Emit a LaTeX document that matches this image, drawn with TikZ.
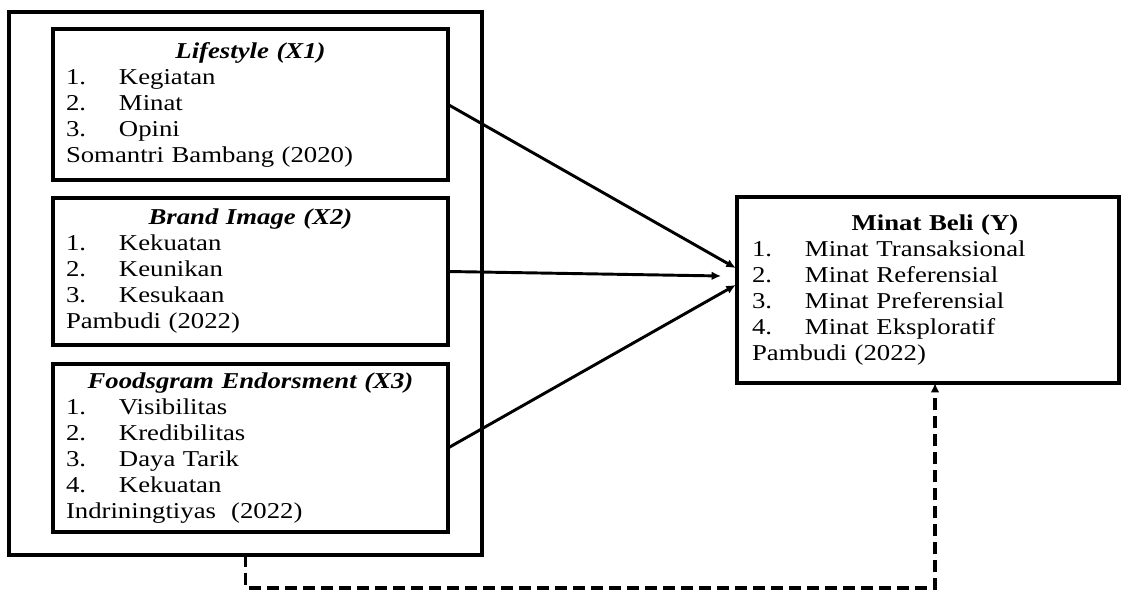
\documentclass[tikz,border=0pt]{standalone}
\usepackage{fontspec}
\setmainfont{Liberation Serif}[FakeStretch=1.18]
\usetikzlibrary{positioning,arrows.meta}
\newcommand{\itm}[2]{\makebox[39.75pt][l]{#1}#2\par}
\newcommand{\ttl}[1]{{\centering #1\par}}

\begin{document}
\begin{tikzpicture}
        [x=0.75pt,y=-0.75pt,node distance=13.5pt,
        box/.style={draw,line width=2.6pt,outer sep=0pt,inner xsep=9.75pt,inner ysep=0pt,
                    anchor=north west,minimum width=296.25pt,text width=276.75pt,
                    font=\fontsize{17}{19.5}\selectfont},
        arr/.style={-{Latex[length=7pt,width=6.5pt]},line width=2.2pt},
        dashline/.style={-{Latex[length=7pt,width=6.5pt]},line width=2.5pt,dash pattern=on 9pt off 4.5pt}]
        \useasboundingbox (0,0) rectangle (1122,591);
        \node[draw,line width=2.6pt,outer sep=0pt,anchor=north west,
              minimum width=354.75pt,minimum height=407.25pt] (grp) at (9,12) {};
        \node[box,minimum height=113.25pt] (x1) at (53,29)
            {\ttl{\bfseries\itshape Lifestyle (X1)}
             \itm{1.}{Kegiatan}
             \itm{2.}{Minat}
             \itm{3.}{Opini}
             Somantri Bambang (2020)};
        \node[box,minimum height=110.25pt,node distance=13.5pt] (x2) [below=of x1]
            {\ttl{\bfseries\itshape Brand Image (X2)}
             \itm{1.}{Kekuatan}
             \itm{2.}{Keunikan}
             \itm{3.}{Kesukaan}
             Pambudi (2022)};
        \node[box,minimum height=126pt,node distance=14.25pt] (x3) [below=of x2]
            {\ttl{\bfseries\itshape Foodsgram Endorsment (X3)}
             \itm{1.}{Visibilitas}
             \itm{2.}{Kredibilitas}
             \itm{3.}{Daya Tarik}
             \itm{4.}{Kekuatan}
             Indriningtiyas~ (2022)};
        \node[box,minimum width=286.5pt,text width=264pt,inner xsep=11.25pt,
              minimum height=139.5pt] (y) at (737,197)
            {\ttl{\hspace*{10.5pt}\bfseries Minat Beli (Y)}
             \itm{1.}{Minat Transaksional}
             \itm{2.}{Minat Referensial}
             \itm{3.}{Minat Preferensial}
             \itm{4.}{Minat Eksploratif}
             Pambudi (2022)};
        \draw[arr] (x1.east) -- ([xshift=-1pt,yshift=16.5pt]y.west);
        \draw[arr] (x2.east) -- ([xshift=-12pt,yshift=10.5pt]y.west);
        \draw[arr] (x3.east) -- ([xshift=-1pt,yshift=3.75pt]y.west);
        \draw[dashline] (grp.south) -- ++(0,33) -| ([xshift=5.25pt]y.south);
\end{tikzpicture}
\end{document}
